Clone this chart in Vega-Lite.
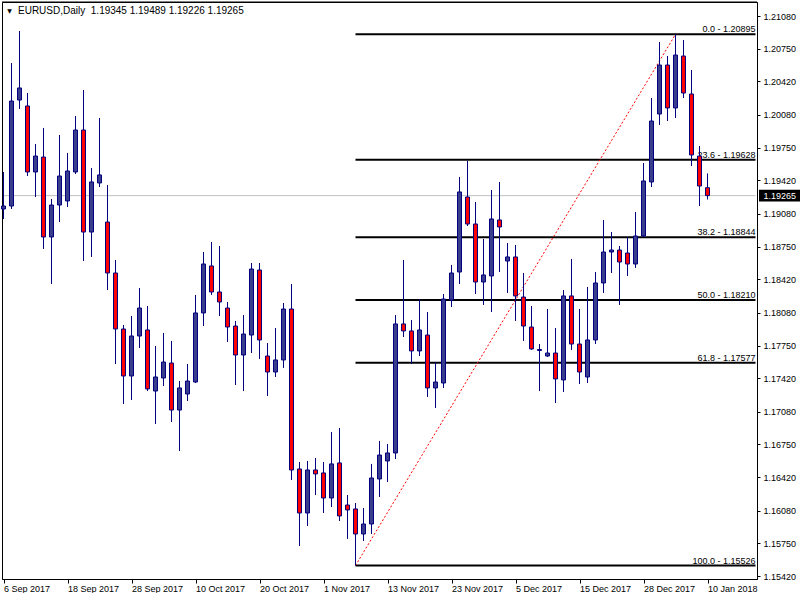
{
  "$schema": "https://vega.github.io/schema/vega-lite/v6.json",
  "width": 755,
  "height": 577,
  "padding": {"left": 1, "top": 1, "right": 0, "bottom": 0},
  "background": "white",
  "config": {
    "view": {"stroke": "black", "strokeWidth": 1},
    "font": "Liberation Sans",
    "text": {"font": "Liberation Sans"},
    "axis": {"labelOverlap": false, "labelSeparation": 0, "labelBound": false}
  },
  "datasets": {
    "one": [{}],
    "candles": [
      {"date": "6 Sep 2017", "open": 1.19130, "high": 1.19504, "low": 1.19029, "close": 1.19160},
      {"date": "7 Sep 2017", "open": 1.19160, "high": 1.20605, "low": 1.19130, "close": 1.20221},
      {"date": "8 Sep 2017", "open": 1.20231, "high": 1.20929, "low": 1.20141, "close": 1.20353},
      {"date": "11 Sep 2017", "open": 1.20171, "high": 1.20302, "low": 1.19463, "close": 1.19504},
      {"date": "12 Sep 2017", "open": 1.19504, "high": 1.19787, "low": 1.19251, "close": 1.19665},
      {"date": "13 Sep 2017", "open": 1.19655, "high": 1.19949, "low": 1.18726, "close": 1.18847},
      {"date": "14 Sep 2017", "open": 1.18847, "high": 1.19231, "low": 1.18372, "close": 1.19170},
      {"date": "15 Sep 2017", "open": 1.19170, "high": 1.19878, "low": 1.18998, "close": 1.19463},
      {"date": "18 Sep 2017", "open": 1.19211, "high": 1.19696, "low": 1.19150, "close": 1.19514},
      {"date": "19 Sep 2017", "open": 1.19504, "high": 1.20070, "low": 1.19484, "close": 1.19928},
      {"date": "20 Sep 2017", "open": 1.19928, "high": 1.20333, "low": 1.18604, "close": 1.18897},
      {"date": "21 Sep 2017", "open": 1.18897, "high": 1.19544, "low": 1.18645, "close": 1.19403},
      {"date": "22 Sep 2017", "open": 1.19393, "high": 1.20050, "low": 1.19352, "close": 1.19474},
      {"date": "25 Sep 2017", "open": 1.18998, "high": 1.19372, "low": 1.18311, "close": 1.18483},
      {"date": "26 Sep 2017", "open": 1.18483, "high": 1.18614, "low": 1.17563, "close": 1.17917},
      {"date": "27 Sep 2017", "open": 1.17917, "high": 1.17957, "low": 1.17159, "close": 1.17442},
      {"date": "28 Sep 2017", "open": 1.17442, "high": 1.18048, "low": 1.17199, "close": 1.17846},
      {"date": "29 Sep 2017", "open": 1.17846, "high": 1.18331, "low": 1.17725, "close": 1.18129},
      {"date": "2 Oct 2017", "open": 1.17907, "high": 1.18149, "low": 1.17290, "close": 1.17311},
      {"date": "3 Oct 2017", "open": 1.17290, "high": 1.17745, "low": 1.16957, "close": 1.17432},
      {"date": "4 Oct 2017", "open": 1.17422, "high": 1.17877, "low": 1.17341, "close": 1.17583},
      {"date": "5 Oct 2017", "open": 1.17573, "high": 1.17796, "low": 1.16977, "close": 1.17098},
      {"date": "6 Oct 2017", "open": 1.17098, "high": 1.17391, "low": 1.16684, "close": 1.17321},
      {"date": "9 Oct 2017", "open": 1.17260, "high": 1.17563, "low": 1.17189, "close": 1.17391},
      {"date": "10 Oct 2017", "open": 1.17381, "high": 1.18261, "low": 1.17371, "close": 1.18079},
      {"date": "11 Oct 2017", "open": 1.18079, "high": 1.18695, "low": 1.17947, "close": 1.18574},
      {"date": "12 Oct 2017", "open": 1.18554, "high": 1.18796, "low": 1.18261, "close": 1.18291},
      {"date": "13 Oct 2017", "open": 1.18291, "high": 1.18756, "low": 1.18048, "close": 1.18190},
      {"date": "16 Oct 2017", "open": 1.18129, "high": 1.18190, "low": 1.17786, "close": 1.17937},
      {"date": "17 Oct 2017", "open": 1.17947, "high": 1.17998, "low": 1.17351, "close": 1.17654},
      {"date": "18 Oct 2017", "open": 1.17654, "high": 1.18058, "low": 1.17290, "close": 1.17866},
      {"date": "19 Oct 2017", "open": 1.17856, "high": 1.18584, "low": 1.17674, "close": 1.18523},
      {"date": "20 Oct 2017", "open": 1.18513, "high": 1.18584, "low": 1.17614, "close": 1.17806},
      {"date": "23 Oct 2017", "open": 1.17644, "high": 1.17775, "low": 1.17240, "close": 1.17482},
      {"date": "24 Oct 2017", "open": 1.17482, "high": 1.17927, "low": 1.17432, "close": 1.17604},
      {"date": "25 Oct 2017", "open": 1.17604, "high": 1.18180, "low": 1.17523, "close": 1.18119},
      {"date": "26 Oct 2017", "open": 1.18119, "high": 1.18372, "low": 1.16391, "close": 1.16492},
      {"date": "27 Oct 2017", "open": 1.16502, "high": 1.16573, "low": 1.15724, "close": 1.16057},
      {"date": "30 Oct 2017", "open": 1.16057, "high": 1.16583, "low": 1.15926, "close": 1.16492},
      {"date": "31 Oct 2017", "open": 1.16492, "high": 1.16613, "low": 1.16239, "close": 1.16452},
      {"date": "1 Nov 2017", "open": 1.16462, "high": 1.16573, "low": 1.16057, "close": 1.16209},
      {"date": "2 Nov 2017", "open": 1.16209, "high": 1.16876, "low": 1.16118, "close": 1.16553},
      {"date": "3 Nov 2017", "open": 1.16563, "high": 1.16916, "low": 1.15976, "close": 1.16027},
      {"date": "6 Nov 2017", "open": 1.16138, "high": 1.16239, "low": 1.15795, "close": 1.16088},
      {"date": "7 Nov 2017", "open": 1.16098, "high": 1.16158, "low": 1.15526, "close": 1.15845},
      {"date": "8 Nov 2017", "open": 1.15845, "high": 1.16108, "low": 1.15774, "close": 1.15946},
      {"date": "9 Nov 2017", "open": 1.15946, "high": 1.16553, "low": 1.15845, "close": 1.16411},
      {"date": "10 Nov 2017", "open": 1.16401, "high": 1.16785, "low": 1.16219, "close": 1.16643},
      {"date": "13 Nov 2017", "open": 1.16583, "high": 1.16755, "low": 1.16371, "close": 1.16664},
      {"date": "14 Nov 2017", "open": 1.16664, "high": 1.18058, "low": 1.16603, "close": 1.17968},
      {"date": "15 Nov 2017", "open": 1.17968, "high": 1.18614, "low": 1.17836, "close": 1.17897},
      {"date": "16 Nov 2017", "open": 1.17897, "high": 1.18008, "low": 1.17563, "close": 1.17695},
      {"date": "17 Nov 2017", "open": 1.17695, "high": 1.18220, "low": 1.17644, "close": 1.17907},
      {"date": "20 Nov 2017", "open": 1.17856, "high": 1.18089, "low": 1.17230, "close": 1.17321},
      {"date": "21 Nov 2017", "open": 1.17321, "high": 1.17583, "low": 1.17119, "close": 1.17381},
      {"date": "22 Nov 2017", "open": 1.17371, "high": 1.18271, "low": 1.17321, "close": 1.18220},
      {"date": "23 Nov 2017", "open": 1.18210, "high": 1.18564, "low": 1.18139, "close": 1.18483},
      {"date": "24 Nov 2017", "open": 1.18493, "high": 1.19453, "low": 1.18372, "close": 1.19302},
      {"date": "27 Nov 2017", "open": 1.19251, "high": 1.19615, "low": 1.18958, "close": 1.18978},
      {"date": "28 Nov 2017", "open": 1.18978, "high": 1.19201, "low": 1.18271, "close": 1.18392},
      {"date": "29 Nov 2017", "open": 1.18392, "high": 1.18827, "low": 1.18160, "close": 1.18463},
      {"date": "30 Nov 2017", "open": 1.18453, "high": 1.19322, "low": 1.18089, "close": 1.19029},
      {"date": "1 Dec 2017", "open": 1.19019, "high": 1.19403, "low": 1.18493, "close": 1.18948},
      {"date": "4 Dec 2017", "open": 1.18604, "high": 1.18786, "low": 1.18281, "close": 1.18645},
      {"date": "5 Dec 2017", "open": 1.18645, "high": 1.18766, "low": 1.17998, "close": 1.18251},
      {"date": "6 Dec 2017", "open": 1.18240, "high": 1.18483, "low": 1.17796, "close": 1.17947},
      {"date": "7 Dec 2017", "open": 1.17937, "high": 1.18149, "low": 1.17705, "close": 1.17715},
      {"date": "8 Dec 2017", "open": 1.17700, "high": 1.17765, "low": 1.17290, "close": 1.17710},
      {"date": "11 Dec 2017", "open": 1.17644, "high": 1.18119, "low": 1.17634, "close": 1.17674},
      {"date": "12 Dec 2017", "open": 1.17674, "high": 1.17927, "low": 1.17169, "close": 1.17412},
      {"date": "13 Dec 2017", "open": 1.17402, "high": 1.18311, "low": 1.17280, "close": 1.18251},
      {"date": "14 Dec 2017", "open": 1.18251, "high": 1.18625, "low": 1.17705, "close": 1.17765},
      {"date": "15 Dec 2017", "open": 1.17765, "high": 1.18119, "low": 1.17361, "close": 1.17482},
      {"date": "18 Dec 2017", "open": 1.17432, "high": 1.18342, "low": 1.17371, "close": 1.17806},
      {"date": "19 Dec 2017", "open": 1.17806, "high": 1.18493, "low": 1.17765, "close": 1.18382},
      {"date": "20 Dec 2017", "open": 1.18382, "high": 1.19019, "low": 1.18281, "close": 1.18695},
      {"date": "21 Dec 2017", "open": 1.18695, "high": 1.18897, "low": 1.18483, "close": 1.18715},
      {"date": "22 Dec 2017", "open": 1.18715, "high": 1.18756, "low": 1.18160, "close": 1.18594},
      {"date": "26 Dec 2017", "open": 1.18685, "high": 1.18847, "low": 1.18453, "close": 1.18574},
      {"date": "27 Dec 2017", "open": 1.18574, "high": 1.19100, "low": 1.18534, "close": 1.18857},
      {"date": "28 Dec 2017", "open": 1.18857, "high": 1.19595, "low": 1.18847, "close": 1.19413},
      {"date": "29 Dec 2017", "open": 1.19403, "high": 1.20252, "low": 1.19352, "close": 1.20019},
      {"date": "2 Jan 2018", "open": 1.20090, "high": 1.20818, "low": 1.19979, "close": 1.20585},
      {"date": "3 Jan 2018", "open": 1.20585, "high": 1.20676, "low": 1.20019, "close": 1.20151},
      {"date": "4 Jan 2018", "open": 1.20151, "high": 1.20895, "low": 1.20050, "close": 1.20686},
      {"date": "5 Jan 2018", "open": 1.20676, "high": 1.20838, "low": 1.20252, "close": 1.20302},
      {"date": "8 Jan 2018", "open": 1.20292, "high": 1.20535, "low": 1.19564, "close": 1.19676},
      {"date": "9 Jan 2018", "open": 1.19665, "high": 1.19767, "low": 1.19160, "close": 1.19362},
      {"date": "10 Jan 2018", "open": 1.19345, "high": 1.19489, "low": 1.19226, "close": 1.19265}
    ],
    "fib": [
      {"label": "0.0 - 1.20895", "price": 1.20895},
      {"label": "23.6 - 1.19628", "price": 1.19628},
      {"label": "38.2 - 1.18844", "price": 1.18844},
      {"label": "50.0 - 1.18210", "price": 1.18210},
      {"label": "61.8 - 1.17577", "price": 1.17577},
      {"label": "100.0 - 1.15526", "price": 1.15526}
    ],
    "trend": [
      {"date": "7 Nov 2017", "price": 1.15526},
      {"date": "4 Jan 2018", "price": 1.20895}
    ]
  },
  "layer": [
    {
      "data": {"name": "one"},
      "mark": {"type": "rule", "color": "#c0c0c0", "strokeWidth": 1},
      "encoding": {
        "x": {
          "datum": "6 Sep 2017",
          "type": "ordinal",
          "scale": {
            "type": "point",
            "padding": 0.1875,
            "domain": ["6 Sep 2017","7 Sep 2017","8 Sep 2017","11 Sep 2017","12 Sep 2017","13 Sep 2017","14 Sep 2017","15 Sep 2017","18 Sep 2017","19 Sep 2017","20 Sep 2017","21 Sep 2017","22 Sep 2017","25 Sep 2017","26 Sep 2017","27 Sep 2017","28 Sep 2017","29 Sep 2017","2 Oct 2017","3 Oct 2017","4 Oct 2017","5 Oct 2017","6 Oct 2017","9 Oct 2017","10 Oct 2017","11 Oct 2017","12 Oct 2017","13 Oct 2017","16 Oct 2017","17 Oct 2017","18 Oct 2017","19 Oct 2017","20 Oct 2017","23 Oct 2017","24 Oct 2017","25 Oct 2017","26 Oct 2017","27 Oct 2017","30 Oct 2017","31 Oct 2017","1 Nov 2017","2 Nov 2017","3 Nov 2017","6 Nov 2017","7 Nov 2017","8 Nov 2017","9 Nov 2017","10 Nov 2017","13 Nov 2017","14 Nov 2017","15 Nov 2017","16 Nov 2017","17 Nov 2017","20 Nov 2017","21 Nov 2017","22 Nov 2017","23 Nov 2017","24 Nov 2017","27 Nov 2017","28 Nov 2017","29 Nov 2017","30 Nov 2017","1 Dec 2017","4 Dec 2017","5 Dec 2017","6 Dec 2017","7 Dec 2017","8 Dec 2017","11 Dec 2017","12 Dec 2017","13 Dec 2017","14 Dec 2017","15 Dec 2017","18 Dec 2017","19 Dec 2017","20 Dec 2017","21 Dec 2017","22 Dec 2017","26 Dec 2017","27 Dec 2017","28 Dec 2017","29 Dec 2017","2 Jan 2018","3 Jan 2018","4 Jan 2018","5 Jan 2018","8 Jan 2018","9 Jan 2018","10 Jan 2018","11 Jan 2018","12 Jan 2018","15 Jan 2018","16 Jan 2018","17 Jan 2018","18 Jan 2018"]
          },
          "axis": {
            "values": ["6 Sep 2017","18 Sep 2017","28 Sep 2017","10 Oct 2017","20 Oct 2017","1 Nov 2017","13 Nov 2017","23 Nov 2017","5 Dec 2017","15 Dec 2017","28 Dec 2017","10 Jan 2018"],
            "title": null,
            "grid": false,
            "domain": true,
            "domainColor": "black",
            "domainWidth": 1,
            "labelAngle": 0,
            "labelAlign": "left",
            "labelBaseline": "top",
            "labelDx": -1,
            "labelPadding": 1,
            "labelFontSize": 9,
            "labelColor": "black",
            "labelOverlap": false,
            "labelFlush": false,
            "tickSize": 4,
            "tickColor": "black"
          }
        },
        "x2": {"datum": "18 Jan 2018"},
        "y": {
          "datum": 1.19265,
          "type": "quantitative",
          "scale": {"domain": [1.1539, 1.21222], "nice": false, "zero": false},
          "axis": {
            "orient": "right",
            "values": [1.2108, 1.2075, 1.2042, 1.2008, 1.1975, 1.1942, 1.1908, 1.1875, 1.1842, 1.1808, 1.1775, 1.1742, 1.1708, 1.1675, 1.1642, 1.1608, 1.1575, 1.1542],
            "tickCount": 40,
            "format": ".5f",
            "title": null,
            "grid": false,
            "domain": true,
            "domainColor": "black",
            "domainWidth": 1,
            "tickSize": 3,
            "tickColor": "black",
            "labelPadding": 3,
            "labelFontSize": 9,
            "labelColor": "black",
            "labelOverlap": false,
            "labelSeparation": 0
          }
        }
      }
    },
    {
      "data": {"name": "one"},
      "mark": {"type": "rule", "color": "black", "strokeWidth": 1},
      "encoding": {
        "y": {"datum": 1.21222, "type": "quantitative"}
      }
    },
    {
      "data": {"name": "fib"},
      "mark": {"type": "rule", "color": "black", "strokeWidth": 2},
      "encoding": {
        "x": {"datum": "7 Nov 2017", "type": "ordinal"},
        "x2": {"datum": "18 Jan 2018"},
        "y": {"field": "price", "type": "quantitative"}
      }
    },
    {
      "data": {"name": "fib"},
      "mark": {"type": "text", "align": "right", "baseline": "alphabetic", "dy": -2, "fontSize": 9, "color": "black"},
      "encoding": {
        "x": {"datum": "18 Jan 2018", "type": "ordinal"},
        "y": {"field": "price", "type": "quantitative"},
        "text": {"field": "label"}
      }
    },
    {
      "data": {"name": "trend"},
      "mark": {"type": "line", "color": "#ff0000", "strokeWidth": 1, "strokeDash": [2, 2]},
      "encoding": {
        "x": {"field": "date", "type": "ordinal"},
        "y": {"field": "price", "type": "quantitative"}
      }
    },
    {
      "data": {"name": "candles"},
      "mark": {"type": "rule", "color": "#000080", "strokeWidth": 1},
      "encoding": {
        "x": {"field": "date", "type": "ordinal"},
        "y": {"field": "low", "type": "quantitative"},
        "y2": {"field": "high"}
      }
    },
    {
      "data": {"name": "candles"},
      "mark": {"type": "bar", "width": 4, "stroke": "#000080", "strokeWidth": 1},
      "encoding": {
        "x": {"field": "date", "type": "ordinal"},
        "y": {"field": "open", "type": "quantitative"},
        "y2": {"field": "close"},
        "fill": {"condition": {"test": "datum.close >= datum.open", "value": "#3c3c8c"}, "value": "#ff0000"}
      }
    },
    {
      "data": {"name": "one"},
      "mark": {"type": "rect", "color": "black", "xOffset": 3.5, "x2Offset": 45, "clip": false},
      "encoding": {
        "x": {"datum": "18 Jan 2018", "type": "ordinal"},
        "x2": {"datum": "18 Jan 2018"},
        "y": {"datum": 1.19325, "type": "quantitative"},
        "y2": {"datum": 1.19205}
      }
    },
    {
      "data": {"name": "one"},
      "mark": {"type": "text", "text": "1.19265", "align": "left", "baseline": "middle", "fontSize": 9, "dx": 8, "color": "white"},
      "encoding": {
        "x": {"datum": "18 Jan 2018", "type": "ordinal"},
        "y": {"datum": 1.19265, "type": "quantitative"}
      }
    },
    {
      "data": {"name": "one"},
      "mark": {"type": "text", "text": "EURUSD,Daily\u00a0 1.19345 1.19489 1.19226 1.19265", "align": "left", "baseline": "middle", "fontSize": 10, "dx": 14.5, "color": "black"},
      "encoding": {
        "x": {"datum": "6 Sep 2017", "type": "ordinal"},
        "y": {"datum": 1.21131, "type": "quantitative"}
      }
    },
    {
      "data": {"name": "one"},
      "mark": {"type": "text", "text": "▼", "align": "center", "baseline": "middle", "fontSize": 6, "dx": 6, "font": "DejaVu Sans", "color": "black"},
      "encoding": {
        "x": {"datum": "6 Sep 2017", "type": "ordinal"},
        "y": {"datum": 1.21131, "type": "quantitative"}
      }
    }
  ]
}
